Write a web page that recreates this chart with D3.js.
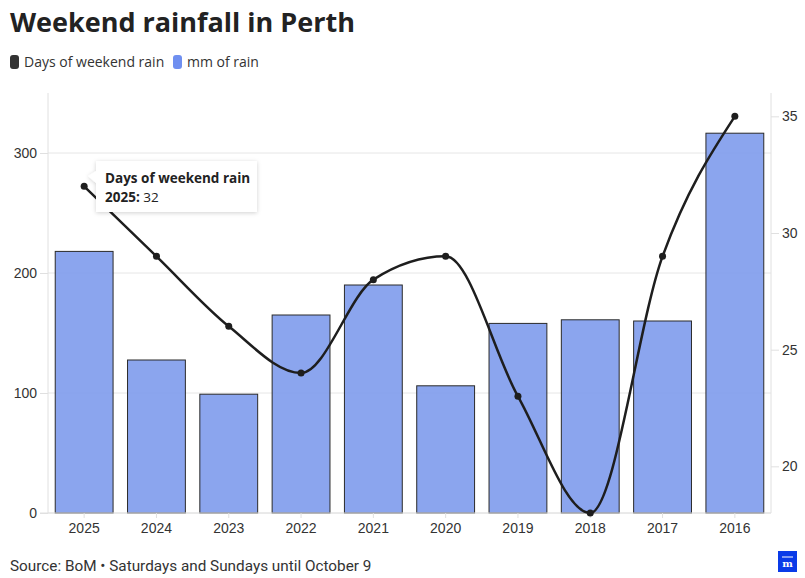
<!DOCTYPE html>
<html><head><meta charset="utf-8">
<script src="https://cdn.jsdelivr.net/npm/d3@7"></script>
<style>
body{margin:0;background:#fff;}
svg{display:block;font-family:"Open Sans","Noto Sans",sans-serif;}
</style></head>
<body><svg id="c" width="805" height="578"></svg>
<script>
const years = ["2025","2024","2023","2022","2021","2020","2019","2018","2017","2016"];
const rainMm = [218,127.5,99,165,190,106,158,161,160,316.5];
const rainDays = [32,29,26,24,28,29,23,18,29,35];
const leftTicks = [0,100,200,300];
const rightTicks = [20,25,30,35];

const svg = d3.select("#c");
const L = 48, R = 771, T = 93, B = 513;

const x = d3.scaleBand().domain(years).range([L, R]).paddingInner(0.2).paddingOuter(0.1);
const yL = d3.scaleLinear().domain([0,350]).range([B, T]);
const yR = d3.scaleLinear().domain([18,36]).range([B, T]);

// Title
svg.append("text").attr("x",10).attr("y",32).attr("font-size",27).attr("font-weight",700)
  .attr("fill","#222").text("Weekend rainfall in Perth");

// Legend
const lg = svg.append("g").attr("font-size",14).attr("fill","#333");
lg.append("rect").attr("x",10).attr("y",55).attr("width",9).attr("height",14).attr("rx",3).attr("fill","#333");
lg.append("text").attr("x",24).attr("y",67).attr("fill","#333").text("Days of weekend rain");
lg.append("rect").attr("x",173).attr("y",55).attr("width",9).attr("height",14).attr("rx",3).attr("fill","#6f8ff0");
lg.append("text").attr("x",187).attr("y",67).attr("fill","#333").text("mm of rain");

// Grid
svg.append("g").selectAll("line").data(leftTicks).join("line")
  .attr("x1",L).attr("x2",R).attr("y1",d=>yL(d)).attr("y2",d=>yL(d))
  .attr("stroke","#e6e6e6").attr("stroke-width",1);

// Left axis
const la = svg.append("g").attr("transform",`translate(${L},0)`)
  .call(d3.axisLeft(yL).tickValues(leftTicks).tickSize(8).tickPadding(3));
la.select(".domain").attr("stroke","#e0e0e0").attr("d",`M0,${T}V${B}`);
la.selectAll(".tick line").attr("stroke","#e0e0e0");
la.selectAll("text").attr("font-size",14).attr("fill","#333").attr("font-family","inherit");

// Right axis
const ra = svg.append("g").attr("transform",`translate(${R},0)`)
  .call(d3.axisRight(yR).tickValues(rightTicks).tickSize(8).tickPadding(3));
ra.select(".domain").attr("stroke","#e0e0e0").attr("d",`M0,${T}V${B}`);
ra.selectAll(".tick line").attr("stroke","#e0e0e0");
ra.selectAll("text").attr("font-size",14).attr("fill","#333").attr("font-family","inherit");

// Bars
svg.append("g").selectAll("rect").data(years).join("rect")
  .attr("x",d=>x(d)).attr("width",x.bandwidth())
  .attr("y",(d,i)=>yL(rainMm[i])).attr("height",(d,i)=>B-yL(rainMm[i]))
  .attr("fill","#7b98ec").attr("fill-opacity",0.88)
  .attr("stroke","#2a2a2a").attr("stroke-width",1);

// Bottom axis
const xa = svg.append("g").attr("transform",`translate(0,${B})`)
  .call(d3.axisBottom(x).tickSize(5).tickPadding(5));
xa.select(".domain").attr("stroke","#e0e0e0").attr("d",`M${L-8},0H${R}`);
xa.selectAll(".tick line").attr("stroke","#e0e0e0");
xa.selectAll("text").attr("font-size",14).attr("fill","#333").attr("font-family","inherit");

// Line
const pts = years.map((d,i)=>[x(d)+x.bandwidth()/2, yR(rainDays[i])]);
svg.append("path").datum(pts)
  .attr("d", d3.line().curve(d3.curveMonotoneX))
  .attr("fill","none").attr("stroke","#1e1e1e").attr("stroke-width",2.5);
svg.append("g").selectAll("circle").data(pts).join("circle")
  .attr("cx",d=>d[0]).attr("cy",d=>d[1]).attr("r",3.5).attr("fill","#1e1e1e");

// Tooltip
const defs = svg.append("defs");
const f = defs.append("filter").attr("id","sh").attr("x","-20%").attr("y","-20%").attr("width","140%").attr("height","160%");
f.append("feDropShadow").attr("dx",0).attr("dy",1).attr("stdDeviation",2).attr("flood-color","#000").attr("flood-opacity",0.18);
const tx = 96, ty = 161, tw = 161, th = 51;
svg.append("path")
  .attr("d",`M${tx},${ty} H${tx+tw} V${ty+th} H${tx} V${ty+22} L${tx-8},${ty+15} L${tx},${ty+10} Z`)
  .attr("fill","#fff").attr("filter","url(#sh)");
const tt = svg.append("text").attr("font-size",13.5).attr("fill","#222");
tt.append("tspan").attr("x",105).attr("y",183).attr("font-weight",700).text("Days of weekend rain");
const t2 = svg.append("text").attr("font-size",13.5).attr("fill","#222").attr("x",105).attr("y",202);
t2.append("tspan").attr("font-weight",700).text(years[0] + ":");
t2.append("tspan").text(" " + rainDays[0]);

// Source
svg.append("text").attr("x",10).attr("y",571).attr("font-size",15.3).attr("fill","#333")
  .attr("font-family","Roboto, sans-serif").text("Source: BoM • Saturdays and Sundays until October 9");

// Logo
svg.append("rect").attr("x",778).attr("y",551).attr("width",19).attr("height",21).attr("fill","#0a3be8");
svg.append("line").attr("x1",782).attr("x2",793).attr("y1",557).attr("y2",557).attr("stroke","#fff").attr("stroke-width",1);
svg.append("text").attr("x",787.5).attr("y",567).attr("text-anchor","middle").attr("font-size",10)
  .attr("font-family","DejaVu Serif, serif").attr("font-weight",700).attr("fill","#fff").text("m");
</script></body></html>
